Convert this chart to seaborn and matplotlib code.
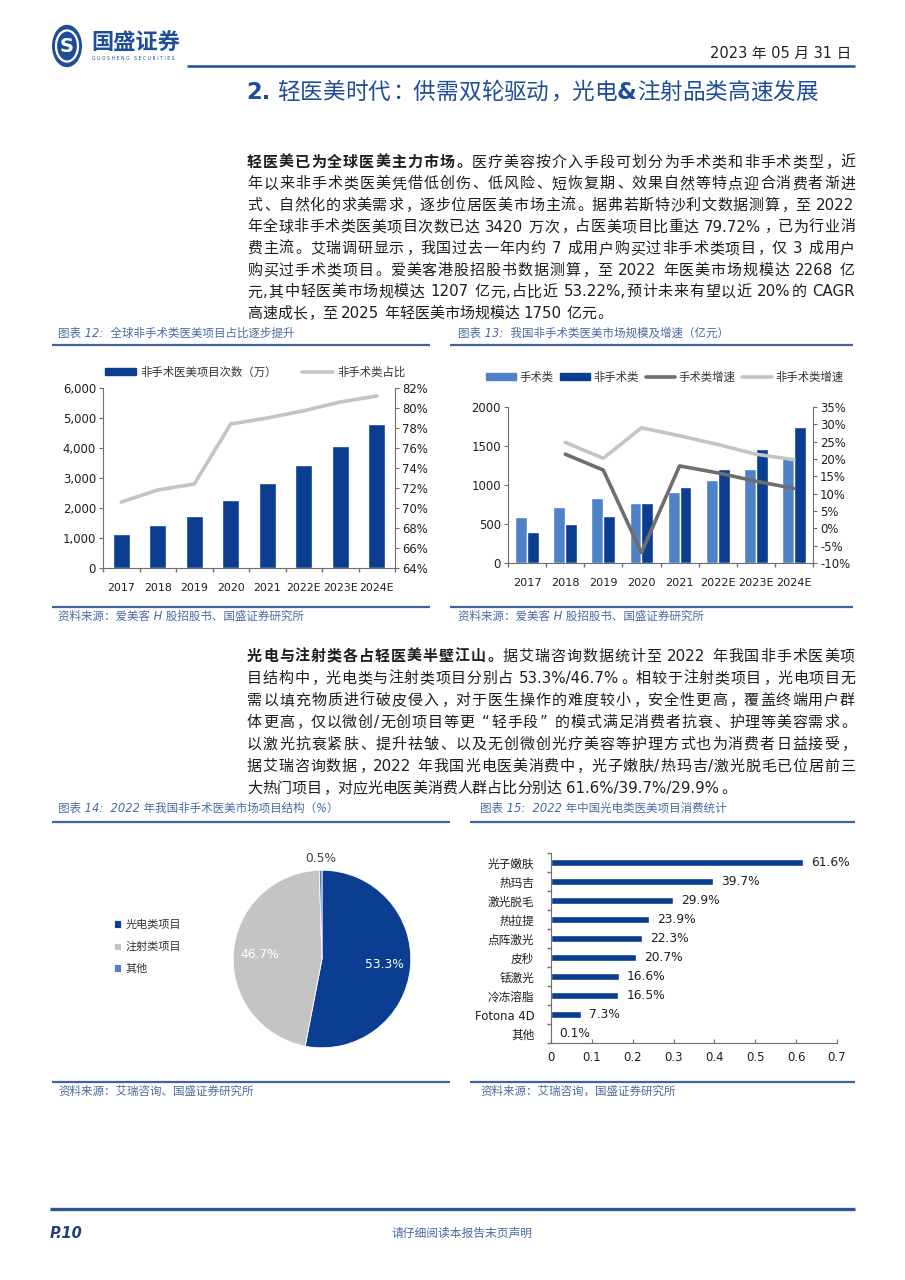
import numpy as np
import pandas as pd
import matplotlib
matplotlib.use('Agg')
import matplotlib.pyplot as plt
import seaborn as sns
from matplotlib.patches import Circle, Rectangle
from matplotlib.lines import Line2D
from matplotlib.ticker import FuncFormatter, MultipleLocator

# ---------------- data ----------------
years = ['2017', '2018', '2019', '2020', '2021', '2022E', '2023E', '2024E']
global_nonsurg_count = [1150, 1450, 1750, 2270, 2820, 3420, 4080, 4800]
global_nonsurg_share = [70.6, 71.8, 72.4, 78.4, 79.0, 79.72, 80.6, 81.2]

cn_surgical = [590, 715, 830, 775, 910, 1060, 1205, 1340]
cn_nonsurgical = [400, 500, 600, 775, 980, 1207, 1460, 1750]
cn_surgical_growth = [np.nan, 21.4, 16.8, -7.0, 18.0, 16.0, 13.6, 11.5]
cn_nonsurgical_growth = [np.nan, 24.8, 20.2, 29.0, 26.7, 24.2, 21.4, 19.8]

pie_labels = ['光电类项目', '注射类项目', '其他']
pie_values = [53.3, 46.7, 0.5]

optical_items = ['光子嫩肤', '热玛吉', '激光脱毛', '热拉提', '点阵激光', '皮秒',
                 '铥激光', '冷冻溶脂', 'Fotona 4D', '其他']
optical_shares = [0.616, 0.397, 0.299, 0.239, 0.223, 0.207, 0.166, 0.165, 0.073, 0.001]

# ---------------- style ----------------
sns.set_theme(style='white')
FAM = ['DejaVu Sans', 'Noto Sans CJK SC']
plt.rcParams['font.family'] = FAM
plt.rcParams['axes.unicode_minus'] = False

BLUE = '#0B3D91'
LBLUE = '#4F81C7'
MBLUE = '#5B7DB8'
LGRAY = '#C4C4C4'
DGRAY = '#6E6E6E'
HEAD = '#1F4E99'
CAP = '#4A6BA3'
SPINE = '#6F6F6F'
TXT = '#1E1E1E'

W, H = 905, 1280
fig = plt.figure(figsize=(9.05, 12.8), dpi=100)
fig.patch.set_facecolor('white')
renderer = fig.canvas.get_renderer()


def fx(x):
    return x / W


def fy(y):
    return 1 - y / H


def axes_px(x0, y0, x1, y1):
    return fig.add_axes([fx(x0), fy(y1), (x1 - x0) / W, (y1 - y0) / H])


def hline(x0, x1, y, lw=1.5, color=HEAD):
    fig.add_artist(Line2D([fx(x0), fx(x1)], [fy(y), fy(y)], transform=fig.transFigure,
                          color=color, lw=lw, solid_capstyle='butt'))


LEFT_P = set('，。、：；）”！？')
RIGHT_P = set('（“')


def draw_line(x0, ycenter, runs, size, color=TXT, target=None):
    em = size * 100 / 72
    toks = []
    for text, weight in runs:
        buf = ''
        for ch in text:
            if ch == ' ':
                if buf:
                    toks.append(('a', buf, weight)); buf = ''
                toks.append(('s', None, weight))
            elif ord(ch) < 0x2000:
                buf += ch
            else:
                if buf:
                    toks.append(('a', buf, weight)); buf = ''
                toks.append(('c', ch, weight))
        if buf:
            toks.append(('a', buf, weight))
    ybase = ycenter + 0.38 * em
    items = []
    for kind, t, w in toks:
        if kind == 's':
            items.append((kind, None, em * 0.28))
        elif kind == 'c':
            if t in LEFT_P:
                ha = 'left'
            elif t in RIGHT_P:
                ha = 'right'
            else:
                ha = 'center'
            a = fig.text(0, fy(ybase), t, fontsize=size, color=color, fontweight=w,
                         va='baseline', ha=ha)
            items.append((kind, a, em))
        else:
            a = fig.text(0, fy(ybase), t, fontsize=size, color=color, fontweight=w,
                         va='baseline', ha='left')
            wd = a.get_window_extent(renderer).width
            items.append((kind, a, wd + 0.5))
    natural = sum(i[2] for i in items)
    gaps = len(items) - 1
    extra = (target - natural) / gaps if (target is not None and gaps > 0) else 0.0
    x = x0
    for kind, a, wd in items:
        if a is not None:
            if kind == 'c':
                ha = a.get_ha()
                if ha == 'left':
                    a.set_x(fx(x + 0.08 * em))
                elif ha == 'right':
                    a.set_x(fx(x + wd - 0.08 * em))
                else:
                    a.set_x(fx(x + wd / 2))
            else:
                a.set_x(fx(x))
        x += wd + extra
    return x


# ---------------- header ----------------
fig.add_artist(Circle((fx(67), fy(46)), 15 / W, transform=fig.transFigure,
                      facecolor=HEAD, edgecolor='none'))
fig.add_artist(Circle((fx(67), fy(46)), 11 / W, transform=fig.transFigure,
                      facecolor='none', edgecolor='white', lw=1.6))
fig.text(fx(67), fy(47), 'S', fontsize=14, fontweight='bold', color='white',
         ha='center', va='center')
fig.text(fx(91), fy(43), '国盛证券', fontsize=16, fontweight='bold', color=HEAD,
         ha='left', va='center')
fig.text(fx(92), fy(58), 'G U O S H E N G   S E C U R I T I E S', fontsize=3.3,
         color=HEAD, ha='left', va='center')
fig.text(fx(851), fy(53), '2023 年 05 月 31 日', fontsize=10.5, color='#222222',
         ha='right', va='center')
hline(187, 855, 66, lw=1.8, color=HEAD)
draw_line(246, 90, [('2.', 'bold'), (' 轻医美时代：供需双轮驱动，光电', 'normal'),
                    ('&', 'bold'), ('注射品类高速发展', 'normal')], 16.3, color=HEAD)

# ---------------- paragraph 1 ----------------
P_SIZE = 10.8
PX0, PX1 = 247, 855
para1 = [
    [('轻医美已为全球医美主力市场。', 'bold'), ('医疗美容按介入手段可划分为手术类和非手术类型，近', 'normal')],
    [('年以来非手术类医美凭借低创伤、低风险、短恢复期、效果自然等特点迎合消费者渐进', 'normal')],
    [('式、自然化的求美需求，逐步位居医美市场主流。据弗若斯特沙利文数据测算，至 2022', 'normal')],
    [('年全球非手术类医美项目次数已达 3420 万次，占医美项目比重达 79.72%，已为行业消', 'normal')],
    [('费主流。艾瑞调研显示，我国过去一年内约 7 成用户购买过非手术类项目，仅 3 成用户', 'normal')],
    [('购买过手术类项目。爱美客港股招股书数据测算，至 2022 年医美市场规模达 2268 亿', 'normal')],
    [('元,其中轻医美市场规模达 1207 亿元,占比近 53.22%,预计未来有望以近 20%的 CAGR', 'normal')],
    [('高速成长，至 2025 年轻医美市场规模达 1750 亿元。', 'normal')],
]
for i, runs in enumerate(para1):
    last = i == len(para1) - 1
    draw_line(PX0, 161 + i * 21.6, runs, P_SIZE, target=None if last else PX1 - PX0)

para2 = [
    [('光电与注射类各占轻医美半壁江山。', 'bold'), ('据艾瑞咨询数据统计至 2022 年我国非手术医美项', 'normal')],
    [('目结构中，光电类与注射类项目分别占 53.3%/46.7%。相较于注射类项目，光电项目无', 'normal')],
    [('需以填充物质进行破皮侵入，对于医生操作的难度较小，安全性更高，覆盖终端用户群', 'normal')],
    [('体更高，仅以微创/无创项目等更“轻手段”的模式满足消费者抗衰、护理等美容需求。', 'normal')],
    [('以激光抗衰紧肤、提升祛皱、以及无创微创光疗美容等护理方式也为消费者日益接受，', 'normal')],
    [('据艾瑞咨询数据，2022 年我国光电医美消费中，光子嫩肤/热玛吉/激光脱毛已位居前三', 'normal')],
    [('大热门项目，对应光电医美消费人群占比分别达 61.6%/39.7%/29.9%。', 'normal')],
]
for i, runs in enumerate(para2):
    last = i == len(para2) - 1
    draw_line(PX0, 655 + i * 22.0, runs, P_SIZE, target=None if last else PX1 - PX0)

# ---------------- chart captions / separators ----------------
CAP_SIZE = 8.3


def caption(x, y, s):
    fig.text(fx(x), fy(y), s, fontsize=CAP_SIZE, color=CAP, style='italic',
             ha='left', va='center')


caption(58, 333, '图表 12:  全球非手术类医美项目占比逐步提升')
caption(458, 333, '图表 13:  我国非手术类医美市场规模及增速（亿元）')
caption(58, 808, '图表 14:  2022 年我国非手术医美市场项目结构（%）')
caption(480, 808, '图表 15:  2022 年中国光电类医美项目消费统计')
hline(52, 430, 345, lw=1.6, color='#3F63A0')
hline(450, 853, 345, lw=1.6, color='#3F63A0')
hline(52, 450, 822, lw=1.6, color='#3F63A0')
hline(470, 855, 822, lw=1.6, color='#3F63A0')
hline(52, 430, 607, lw=1.6, color='#3F63A0')
hline(450, 853, 607, lw=1.6, color='#3F63A0')
hline(52, 450, 1082, lw=1.6, color='#3F63A0')
hline(470, 855, 1082, lw=1.6, color='#3F63A0')
caption(58, 616, '资料来源：爱美客 H 股招股书、国盛证券研究所')
caption(458, 616, '资料来源：爱美客 H 股招股书、国盛证券研究所')
caption(58, 1091, '资料来源：艾瑞咨询、国盛证券研究所')
caption(480, 1091, '资料来源：艾瑞咨询，国盛证券研究所')

TICK = 8.4


def base_style(ax, spines=('left', 'bottom')):
    for s in ['top', 'right', 'left', 'bottom']:
        ax.spines[s].set_visible(s in spines)
        ax.spines[s].set_color(SPINE)
        ax.spines[s].set_linewidth(0.8)
    ax.set_xlabel('')
    ax.set_ylabel('')
    ax.set_facecolor('none')
    ax.tick_params(labelsize=TICK, colors=SPINE, labelcolor=TXT, width=0.8)


# ---------------- chart 12 ----------------
df12 = pd.DataFrame({'year': years, 'count': global_nonsurg_count,
                     'share': global_nonsurg_share})
ax12 = axes_px(103, 388, 395, 568)
sns.barplot(data=df12, x='year', y='count', color=BLUE, width=0.46, saturation=1,
            ax=ax12)
ax12.set_ylim(0, 6000)
ax12.set_xlim(-0.5, 7.5)
ax12.yaxis.set_major_locator(MultipleLocator(1000))
ax12.yaxis.set_major_formatter(FuncFormatter(lambda v, p: f'{v:,.0f}'))
base_style(ax12, ('left', 'bottom'))
ax12.tick_params(axis='y', left=True, length=3, direction='out', pad=2)
ax12.tick_params(axis='x', bottom=False, pad=5, labelsize=7.9)
ax12.set_xticks(np.arange(-0.5, 8, 1), minor=True)
ax12.tick_params(axis='x', which='minor', bottom=True, length=3, color=SPINE)

ax12b = ax12.twinx()
sns.lineplot(data=df12, x='year', y='share', color=LGRAY, lw=2.6, ax=ax12b, sort=False)
ax12b.set_ylim(64, 82)
ax12b.yaxis.set_major_locator(MultipleLocator(2))
ax12b.yaxis.set_major_formatter(FuncFormatter(lambda v, p: f'{v:.0f}%'))
base_style(ax12b, ('right',))
ax12b.tick_params(axis='y', right=True, length=3, direction='out', pad=2)
ax12b.set_xlim(-0.5, 7.5)

h12 = [Rectangle((0, 0), 1, 1, color=BLUE), Line2D([], [], color=LGRAY, lw=2.6)]
fig.legend(h12, ['非手术医美项目次数（万）', '非手术类占比'], loc='center left',
           bbox_to_anchor=(fx(95), fy(372)), ncol=2, frameon=False, fontsize=8.2,
           handlelength=2.7, handleheight=0.6, columnspacing=2.2, handletextpad=0.4,
           labelcolor='#333333')

# ---------------- chart 13 ----------------
df13 = pd.DataFrame({'year': years * 2,
                     'value': cn_surgical + cn_nonsurgical,
                     'type': ['手术类'] * 8 + ['非手术类'] * 8})
df13g = pd.DataFrame({'year': years * 2,
                      'growth': cn_surgical_growth + cn_nonsurgical_growth,
                      'series': ['手术类增速'] * 8 + ['非手术类增速'] * 8})
ax13 = axes_px(508, 407, 813, 563)
sns.barplot(data=df13, x='year', y='value', hue='type', palette=[LBLUE, BLUE],
            width=0.62, saturation=1, ax=ax13, legend=False)
ax13.set_ylim(0, 2000)
ax13.set_xlim(-0.5, 7.5)
ax13.yaxis.set_major_locator(MultipleLocator(500))
ax13.yaxis.set_major_formatter(FuncFormatter(lambda v, p: f'{v:.0f}'))
base_style(ax13, ('left', 'bottom'))
ax13.tick_params(axis='y', left=True, length=3, direction='out', pad=2)
ax13.tick_params(axis='x', bottom=False, pad=5, labelsize=8.1)
ax13.set_xticks(np.arange(-0.5, 8, 1), minor=True)
ax13.tick_params(axis='x', which='minor', bottom=True, length=3, color=SPINE)

ax13b = ax13.twinx()
sns.lineplot(data=df13g, x='year', y='growth', hue='series', palette=[DGRAY, LGRAY],
             lw=2.6, ax=ax13b, sort=False, legend=False, errorbar=None)
ax13b.set_ylim(-10, 35)
ax13b.yaxis.set_major_locator(MultipleLocator(5))
ax13b.yaxis.set_major_formatter(FuncFormatter(lambda v, p: f'{v:.0f}%'))
base_style(ax13b, ('right',))
ax13b.tick_params(axis='y', right=True, length=3, direction='out', pad=2)
ax13b.set_xlim(-0.5, 7.5)

h13 = [Rectangle((0, 0), 1, 1, color=LBLUE), Rectangle((0, 0), 1, 1, color=BLUE),
       Line2D([], [], color=DGRAY, lw=2.6), Line2D([], [], color=LGRAY, lw=2.6)]
fig.legend(h13, ['手术类', '非手术类', '手术类增速', '非手术类增速'], loc='center left',
           bbox_to_anchor=(fx(476), fy(377)), ncol=4, frameon=False, fontsize=8.2,
           handlelength=2.6, handleheight=0.6, columnspacing=0.6, handletextpad=0.3,
           labelcolor='#333333')

# ---------------- chart 14 (pie) ----------------
ax14 = axes_px(211, 848, 433, 1070)
wedges, _ = ax14.pie(pie_values, colors=[BLUE, LGRAY, MBLUE], startangle=90,
                     counterclock=False,
                     wedgeprops=dict(edgecolor='white', linewidth=0.6))
for w, v in zip(wedges, pie_values):
    mid = np.deg2rad((w.theta1 + w.theta2) / 2)
    if v < 5:
        r, col = 1.13, '#404040'
    else:
        r, col = 0.70, 'white'
    ax14.text(r * np.cos(mid), r * np.sin(mid), f'{v:.1f}%', ha='center', va='center',
              fontsize=8.8, color=col)
fig.legend(wedges, pie_labels, loc='center left', bbox_to_anchor=(fx(104), fy(947)),
           frameon=False, fontsize=8, handlelength=0.65, handleheight=0.65,
           labelspacing=1.05, handletextpad=0.4, labelcolor='#333333')

# ---------------- chart 15 ----------------
df15 = pd.DataFrame({'item': optical_items, 'share': optical_shares})
ax15 = axes_px(551, 853, 837, 1043)
sns.barplot(data=df15, y='item', x='share', color=BLUE, width=0.42, saturation=1,
            orient='h', ax=ax15)
ax15.set_xlim(0, 0.7)
ax15.set_ylim(9.5, -0.5)
ax15.xaxis.set_major_locator(MultipleLocator(0.1))
ax15.xaxis.set_major_formatter(FuncFormatter(lambda v, p: f'{v:.1f}'.rstrip('0').rstrip('.') if v else '0'))
ax15.bar_label(ax15.containers[0], labels=[f'{v * 100:.1f}%' for v in optical_shares],
               padding=6, fontsize=8.8, color=TXT)
base_style(ax15, ('left', 'bottom'))
ax15.tick_params(axis='x', bottom=True, direction='in', length=3, pad=6)
ax15.tick_params(axis='y', left=False, pad=6)
ax15.set_yticks(np.arange(-0.5, 10, 1), minor=True)
ax15.tick_params(axis='y', which='minor', left=True, length=3, color=SPINE)

# ---------------- footer ----------------
hline(50, 855, 1209, lw=2.4, color='#2F5597')
fig.text(fx(50), fy(1233), 'P.10', fontsize=10.5, fontweight='bold', style='italic',
         color='#1F3F7F', ha='left', va='center')
fig.text(fx(462), fy(1233), '请仔细阅读本报告末页声明', fontsize=8.5, style='italic',
         color=CAP, ha='center', va='center')

fig.savefig('out.png', dpi=100, facecolor='white')
